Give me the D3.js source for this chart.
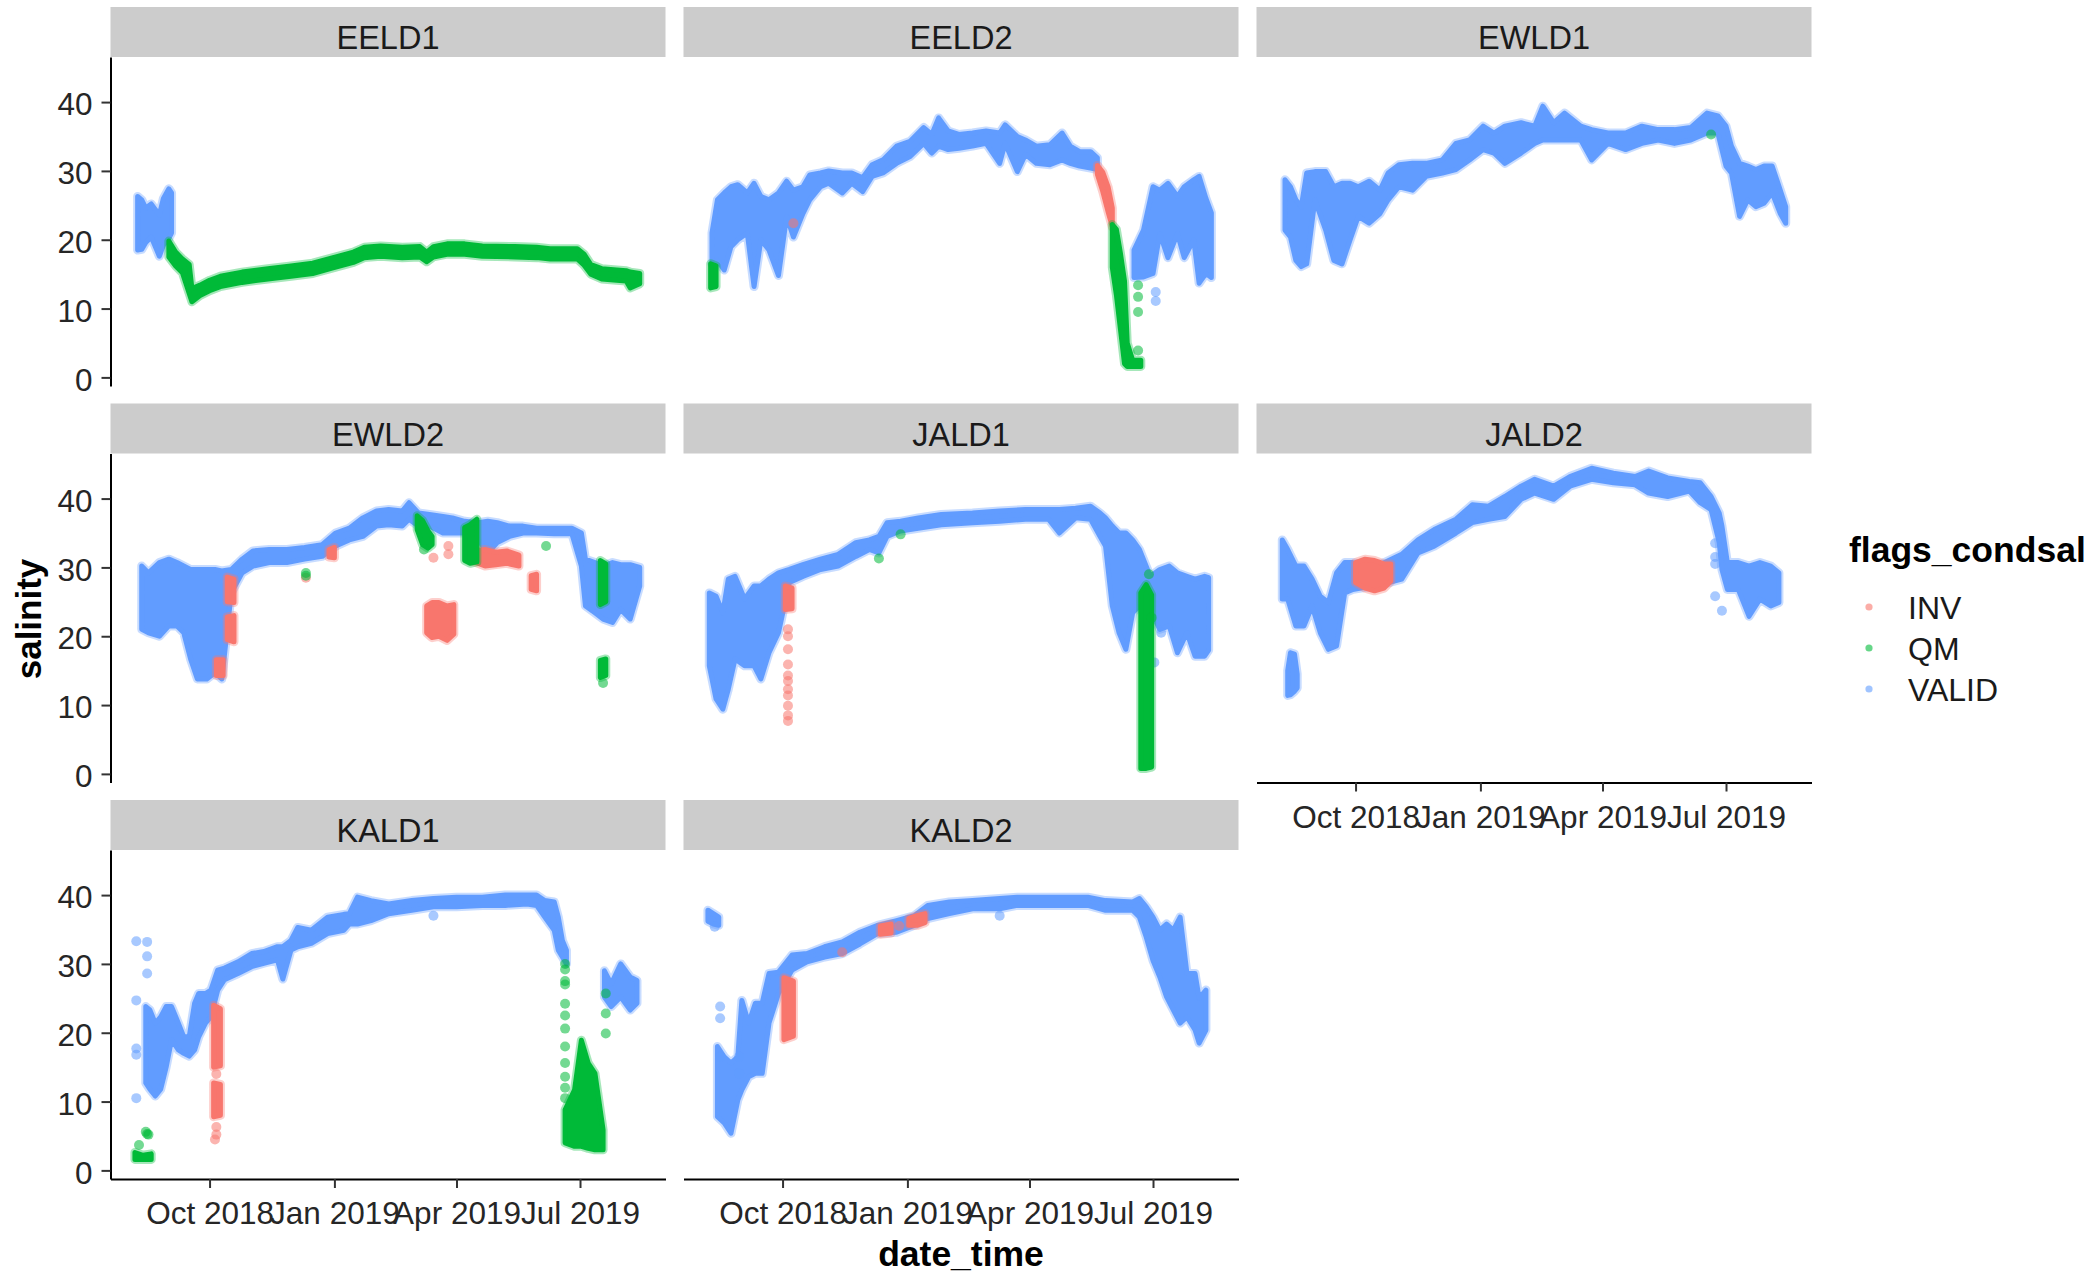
<!DOCTYPE html>
<html>
<head>
<meta charset="utf-8">
<script src="https://cdn.jsdelivr.net/npm/d3@7"></script>
<style>
  body { margin: 0; background: #fff; }
  text { font-family: "Liberation Sans", Arial, sans-serif; }
</style>
</head>
<body>
<svg id="chart" width="2093" height="1277"></svg>
<script>
// ---- categories, ticks, colours ----
const stations = ["EELD1", "EELD2", "EWLD1", "EWLD2", "JALD1", "JALD2", "KALD1", "KALD2"];
const flags = ["INV", "QM", "VALID"];
const flagColors = ["#F8766D", "#00BA38", "#619CFF"];
const yTicks = [0, 10, 20, 30, 40];
const xTickDates = ["2018-10-01", "2019-01-01", "2019-04-01", "2019-07-01"];
const xTickLabels = ["Oct 2018", "Jan 2019", "Apr 2019", "Jul 2019"];

// ---- salinity readings: dense runs as [date, low, high] per period (null = break) ----
// ---- sparse readings as [date, salinity] ----

const eeld1Valid = [
  ["2018-08-09",18.5,26.3],["2018-08-12",18.6,25.8],["2018-08-15",19.6,24.6],["2018-08-19",20.4,25.2],
  ["2018-08-22",19.0,24.4],["2018-08-25",17.6,23.6],["2018-08-28",19.2,26.0],["2018-09-01",20.2,27.4],
  ["2018-09-03",21.0,26.8]
];
const eeld1Qm = [
  ["2018-09-01",17.5,19.8],["2018-09-06",16.2,18.2],["2018-09-11",15.2,17.2],["2018-09-16",12.2,16.4],
  ["2018-09-18",11.0,12.9],["2018-09-24",11.9,13.4],["2018-10-01",12.6,14.1],["2018-10-09",13.2,14.7],
  ["2018-10-25",13.8,15.3],["2018-11-13",14.3,15.8],["2018-11-30",14.7,16.2],["2018-12-16",15.1,16.6],
  ["2018-12-29",15.8,17.3],["2019-01-15",16.7,18.2],["2019-01-23",17.4,18.9],["2019-02-04",17.6,19.1],
  ["2019-02-20",17.4,18.9],["2019-03-05",17.5,19.0],["2019-03-10",16.8,18.2],["2019-03-15",17.5,19.0],
  ["2019-03-25",17.9,19.4],["2019-04-07",17.9,19.4],["2019-04-20",17.6,19.1],["2019-05-14",17.5,19.0],
  ["2019-05-30",17.4,18.9],["2019-06-09",17.2,18.7],["2019-06-29",17.2,18.7],["2019-07-04",16.3,17.9],
  ["2019-07-09",15.0,16.4],["2019-07-17",14.3,15.8],["2019-07-28",14.1,15.6],["2019-08-04",14.0,15.5],
  ["2019-08-07",13.0,15.3],["2019-08-14",13.6,15.1]
];

const eeld2Valid = [
  ["2018-08-10",16.5,21.0],["2018-08-14",17.0,25.8],["2018-08-19",15.6,26.8],["2018-08-24",19.0,27.7],
  ["2018-08-29",20.0,28.0],["2018-09-05",21.0,26.8],["2018-09-10",13.2,28.2],["2018-09-15",20.0,26.3],
  ["2018-09-21",18.5,25.8],["2018-09-28",14.8,26.8],["2018-10-04",23.4,28.5],["2018-10-09",20.4,27.2],
  ["2018-10-16",23.8,27.7],["2018-10-21",25.8,29.4],["2018-10-29",27.7,29.7],["2018-11-04",28.2,30.0],
  ["2018-11-14",26.8,29.7],["2018-11-21",28.2,29.7],["2018-11-29",27.0,29.0],["2018-12-06",29.2,30.9],
  ["2018-12-14",29.7,31.6],["2018-12-24",31.1,33.6],["2019-01-03",32.1,34.3],["2019-01-13",34.0,36.3],
  ["2019-01-19",32.6,35.3],["2019-01-24",33.6,37.7],["2019-01-31",33.1,35.8],["2019-02-08",33.3,35.3],
  ["2019-02-18",33.6,35.5],["2019-02-28",34.0,35.8],["2019-03-10",31.1,35.5],["2019-03-14",34.0,36.7],
  ["2019-03-23",29.9,35.0],["2019-03-29",32.4,34.5],["2019-04-06",31.1,33.6],["2019-04-16",30.9,33.8],
  ["2019-04-25",31.6,35.5],["2019-05-01",31.1,33.6],["2019-05-08",30.7,32.8],["2019-05-16",30.4,32.8],
  ["2019-05-21",30.2,31.9],
  null,
  ["2019-06-17",14.5,18.5],["2019-06-24",14.6,21.4],["2019-07-01",15.1,27.7],["2019-07-06",20.9,27.2],
  ["2019-07-12",17.4,28.2],["2019-07-19",20.9,26.3],["2019-07-24",17.4,27.7],["2019-07-31",20.0,28.7],
  ["2019-08-04",13.7,29.2],["2019-08-09",15.1,26.0],["2019-08-13",14.5,23.9]
];
const eeld2ValidPts = [["2019-07-03",12.4],["2019-07-03",11.1]];
const eeld2Inv = [
  ["2019-05-21",29.5,30.8],["2019-05-25",27.0,29.8],["2019-05-29",24.0,27.6],["2019-06-01",21.9,24.6]
];
const eeld2InvPts = [["2018-10-09",22.4]];
const eeld2Qm = [
  ["2018-08-09",13.0,16.5],["2018-08-13",13.2,16.2],
  null,
  ["2019-06-01",16.0,22.2],["2019-06-04",12.0,21.5],["2019-06-07",7.0,18.0],["2019-06-10",2.0,14.0],
  ["2019-06-12",1.6,5.0],["2019-06-16",1.6,2.5],["2019-06-22",1.6,2.5]
];
const eeld2QmPts = [["2019-06-20",13.4],["2019-06-20",11.7],["2019-06-20",9.5],["2019-06-20",3.9]];

const ewld1Valid = [
  ["2018-08-10",21.4,28.7],["2018-08-14",20.4,27.7],["2018-08-18",17.0,25.8],["2018-08-22",16.1,24.8],
  ["2018-08-26",16.5,29.7],["2018-09-01",25.8,29.9],["2018-09-09",21.4,29.9],["2018-09-15",17.0,27.7],
  ["2018-09-21",16.5,28.2],["2018-09-27",20.0,28.2],["2018-10-03",23.4,27.7],["2018-10-11",22.4,28.5],
  ["2018-10-19",23.8,27.2],["2018-10-25",25.8,29.7],["2018-11-02",27.7,30.9],["2018-11-12",27.2,31.1],
  ["2018-11-22",29.2,31.1],["2018-12-04",29.7,31.6],["2018-12-14",30.2,34.0],["2018-12-24",31.6,34.5],
  ["2019-01-03",33.1,36.5],["2019-01-11",32.6,35.5],["2019-01-19",31.1,36.5],["2019-01-31",32.6,37.0],
  ["2019-02-10",34.0,36.5],["2019-02-16",34.5,39.4],["2019-02-24",34.5,37.0],["2019-03-04",34.5,38.4],
  ["2019-03-16",34.5,36.5],["2019-03-24",31.6,36.0],["2019-04-05",34.0,35.5],["2019-04-18",33.1,35.5],
  ["2019-04-30",34.0,36.5],["2019-05-12",34.5,36.0],["2019-05-24",34.0,36.0],["2019-06-05",34.5,36.3],
  ["2019-06-17",35.5,38.4],["2019-06-25",35.5,38.0],["2019-07-01",30.7,36.5],["2019-07-05",29.7,33.6],
  ["2019-07-11",23.4,31.1],["2019-07-17",25.8,30.7],["2019-07-23",24.8,30.2],["2019-07-29",25.3,30.7],
  ["2019-08-04",26.8,30.7],["2019-08-10",23.8,27.2],["2019-08-14",22.4,24.8]
];
const ewld1QmPts = [["2019-06-20",35.3]];

const ewld2Valid = [
  ["2018-08-12",21.0,30.2],["2018-08-17",20.5,29.2],["2018-08-25",20.0,30.7],["2018-09-01",21.5,31.2],
  ["2018-09-07",21.5,30.7],["2018-09-12",20.5,30.2],["2018-09-17",16.7,29.7],["2018-09-22",13.8,29.7],
  ["2018-09-29",13.8,29.7],["2018-10-05",14.7,29.7],["2018-10-10",13.8,29.5],["2018-10-17",26.3,29.7],
  ["2018-10-25",29.2,31.2],["2018-11-02",30.2,32.4],["2018-11-14",30.7,32.6],["2018-11-27",30.7,32.6],
  ["2018-12-10",31.2,32.9],["2018-12-23",31.6,33.3],["2019-01-02",33.1,35.0],["2019-01-12",34.0,35.7],
  ["2019-01-22",34.5,37.2],["2019-02-01",36.0,38.2],["2019-02-10",36.2,38.4],["2019-02-20",36.0,38.2],
  ["2019-02-25",37.0,39.4],["2019-03-04",36.0,37.9],["2019-03-12",36.0,37.7],["2019-03-22",35.0,37.4],
  ["2019-03-29",35.0,37.2],["2019-04-07",35.0,36.7],["2019-04-17",34.0,36.5],["2019-04-24",32.1,36.7],
  ["2019-05-01",33.6,36.5],["2019-05-10",34.5,36.0],["2019-05-20",35.0,36.0],["2019-05-30",35.0,35.7],
  ["2019-06-12",34.9,35.7],["2019-06-25",34.9,35.7],["2019-07-02",30.2,35.0],["2019-07-05",24.4,31.2],
  ["2019-07-12",23.4,30.7],["2019-07-18",22.5,30.2],["2019-07-25",22.0,30.7],["2019-07-31",23.9,30.4],
  ["2019-08-07",22.5,30.4],["2019-08-14",27.3,30.0]
];
const ewld2Inv = [
  ["2018-10-06",14.3,16.6],["2018-10-11",14.3,16.6],
  null,
  ["2018-10-14",25.0,28.6],["2018-10-19",24.9,28.3],
  null,
  ["2018-10-14",19.5,22.8],["2018-10-19",19.2,23.0],
  null,
  ["2018-12-28",31.5,32.6],["2019-01-01",31.4,32.9],
  null,
  ["2019-03-10",20.5,24.4],["2019-03-14",19.8,24.9],["2019-03-19",20.0,24.9],["2019-03-25",19.4,24.4],
  ["2019-03-30",20.3,24.6],
  null,
  ["2019-04-14",30.8,32.4],["2019-04-22",30.2,32.6],["2019-04-30",30.4,32.2],["2019-05-08",30.6,32.4],
  ["2019-05-17",30.2,31.8],
  null,
  ["2019-05-26",26.8,28.8],["2019-05-30",26.6,29.0]
];
const ewld2InvPts = [["2019-03-15",31.4],["2019-03-26",33.1],["2019-03-26",31.9],["2018-12-11",28.5]];
const ewld2Qm = [
  ["2019-03-03",35.5,37.5],["2019-03-07",33.3,36.8],["2019-03-11",32.8,35.3],["2019-03-14",33.3,34.5],
  null,
  ["2019-04-07",31.0,35.8],["2019-04-11",30.6,36.2],["2019-04-16",30.8,37.0],
  null,
  ["2019-07-16",24.6,31.0],["2019-07-20",25.0,30.5],
  null,
  ["2019-07-16",14.0,16.5],["2019-07-20",14.3,16.7]
];
const ewld2QmPts = [["2018-12-11",28.8],["2018-12-11",29.2],["2019-06-06",33.1],["2019-07-18",13.2],["2019-03-08",32.6]];

const jald1Valid = [
  ["2018-08-08",15.7,26.3],["2018-08-13",10.9,25.8],["2018-08-18",9.4,23.4],["2018-08-22",12.3,28.3],
  ["2018-08-27",16.7,28.7],["2018-09-03",15.7,25.4],["2018-09-10",15.7,27.3],["2018-09-15",13.8,27.3],
  ["2018-09-21",17.6,28.3],["2018-09-28",20.5,29.2],["2018-10-06",27.8,29.7],["2018-10-16",28.7,30.4],
  ["2018-10-29",29.7,31.2],["2018-11-11",30.2,31.9],["2018-11-24",31.6,33.6],["2018-12-04",32.6,34.0],
  ["2018-12-11",32.1,34.5],["2018-12-17",34.5,36.5],["2018-12-27",35.3,36.7],["2019-01-09",35.7,37.2],
  ["2019-01-26",36.2,37.7],["2019-02-18",36.5,37.9],["2019-03-10",36.7,38.2],["2019-03-29",37.0,38.4],
  ["2019-04-15",37.0,38.4],["2019-04-23",35.0,38.4],["2019-05-05",37.2,38.6],["2019-05-16",37.0,38.9],
  ["2019-05-23",34.5,37.9],["2019-05-27",33.1,37.2],["2019-06-01",24.4,36.0],["2019-06-06",20.5,35.0],
  ["2019-06-11",18.1,35.0],["2019-06-16",23.4,34.0],["2019-06-21",24.4,32.6],["2019-06-29",23.9,28.7],
  ["2019-07-06",21.0,29.7],["2019-07-13",21.5,30.2],["2019-07-19",17.6,29.2],["2019-07-26",20.5,28.7],
  ["2019-08-01",17.1,28.3],["2019-08-08",17.1,28.7],["2019-08-11",18.0,28.5]
];
const jald1ValidPts = [["2019-07-07",20.5],["2019-07-02",16.2]];
const jald1Inv = [["2018-10-03",23.9,27.3],["2018-10-08",24.0,27.0]];
const jald1InvPts = [
  ["2018-10-05",21.0],["2018-10-05",20.0],["2018-10-05",18.1],["2018-10-05",15.9],["2018-10-05",14.3],
  ["2018-10-05",13.5],["2018-10-05",12.3],["2018-10-05",11.4],["2018-10-05",9.9],["2018-10-05",8.5],
  ["2018-10-05",7.7]
];
const jald1Qm = [["2019-06-22",0.8,26.3],["2019-06-26",0.8,27.5],["2019-06-30",1.0,26.0]];
const jald1QmPts = [["2018-12-11",31.3],["2018-12-27",34.8],["2019-06-28",29.0],["2019-06-30",22.7]];

const jald2Valid = [
  ["2018-08-08",25.4,34.0],["2018-08-12",25.4,32.6],["2018-08-18",21.5,30.2],["2018-08-24",21.5,30.2],
  ["2018-08-30",24.4,28.3],["2018-09-05",20.5,25.8],["2018-09-11",18.1,24.9],["2018-09-17",18.6,29.2],
  ["2018-09-23",26.3,30.7],["2018-09-29",26.8,30.7],["2018-10-05",27.0,30.5],["2018-10-20",27.5,30.5],
  ["2018-11-04",28.3,31.9],["2018-11-16",32.1,34.0],["2018-11-28",33.1,35.5],["2018-12-14",35.0,37.0],
  ["2018-12-26",36.5,39.1],["2019-01-07",37.0,38.9],["2019-01-19",37.4,40.3],["2019-01-31",39.9,41.8],
  ["2019-02-10",40.8,42.8],["2019-02-24",39.9,41.8],["2019-03-08",41.8,43.2],["2019-03-24",42.8,44.4],
  ["2019-04-09",42.3,43.7],["2019-04-25",42.0,43.2],["2019-05-05",40.8,44.0],["2019-05-19",40.3,43.0],
  ["2019-06-04",41.1,42.5],["2019-06-12",39.4,42.3],["2019-06-20",38.4,40.3],["2019-06-26",33.6,37.9],
  ["2019-06-28",29.7,36.0],["2019-07-02",26.8,30.7],["2019-07-10",26.8,30.7],["2019-07-18",22.9,30.2],
  ["2019-07-26",25.4,30.7],["2019-08-03",24.4,30.2],["2019-08-09",24.9,29.2],
  null,
  ["2018-08-12",11.4,15.0],["2018-08-14",11.5,17.6],["2018-08-17",12.0,17.4],["2018-08-19",12.5,14.5]
];
const jald2ValidPts = [["2019-06-23",33.5],["2019-06-23",31.5],["2019-06-23",30.5],["2019-06-23",25.8],["2019-06-28",23.7]];
const jald2Inv = [
  ["2018-10-01",27.8,30.7],["2018-10-08",27.0,31.2],["2018-10-15",26.6,31.0],["2018-10-22",27.0,30.5],
  ["2018-10-27",28.0,30.5]
];

const kald1Valid = [
  ["2018-08-15",12.7,23.8],["2018-08-18",11.8,23.3],["2018-08-22",10.8,21.4],["2018-08-26",11.8,22.3],
  ["2018-08-30",15.0,23.8],["2018-09-03",19.0,23.8],["2018-09-08",17.5,21.4],["2018-09-12",17.0,19.4],
  ["2018-09-16",16.6,19.4],["2018-09-20",17.5,24.3],["2018-09-23",19.4,25.7],["2018-09-28",21.4,25.7],
  ["2018-10-02",22.3,26.2],["2018-10-07",26.2,29.1],["2018-10-12",27.7,29.4],["2018-10-22",28.6,30.3],
  ["2018-11-01",29.6,31.5],["2018-11-10",30.1,31.8],["2018-11-20",30.6,32.5],["2018-11-24",27.8,32.5],
  ["2018-11-30",32.0,33.4],["2018-12-05",32.5,35.3],["2018-12-15",33.0,34.9],["2018-12-27",34.4,36.8],
  ["2019-01-08",34.9,37.2],["2019-01-12",35.8,37.3],["2019-01-18",35.8,39.7],["2019-01-28",36.3,39.2],
  ["2019-02-10",37.3,38.7],["2019-02-27",37.8,39.2],["2019-03-15",38.3,39.5],["2019-04-01",38.3,39.7],
  ["2019-04-20",38.5,39.7],["2019-05-07",38.5,40.0],["2019-05-23",38.7,40.0],["2019-05-30",38.5,40.0],
  ["2019-06-05",36.8,39.2],["2019-06-12",34.9,39.0],["2019-06-15",32.0,36.8],["2019-06-18",31.0,33.4],
  ["2019-06-21",30.0,32.0],
  null,
  ["2019-07-19",25.2,29.0],["2019-07-24",23.8,27.1],["2019-07-31",25.2,30.0],["2019-08-07",23.3,28.1],
  ["2019-08-12",24.3,27.6]
];
const kald1ValidPts = [
  ["2018-08-08",33.3],["2018-08-08",24.7],["2018-08-08",17.7],["2018-08-08",16.8],["2018-08-08",10.5],
  ["2018-08-16",33.2],["2018-08-16",31.1],["2018-08-16",28.6],["2019-03-15",37.0]
];
const kald1Inv = [
  ["2018-10-04",15.0,24.0],["2018-10-09",15.2,23.5],
  null,
  ["2018-10-04",7.8,12.7],["2018-10-09",8.0,12.5]
];
const kald1InvPts = [["2018-10-06",14.0],["2018-10-06",6.3],["2018-10-06",5.2],["2018-10-05",4.5]];
const kald1Qm = [
  ["2018-08-07",1.6,2.6],["2018-08-13",1.6,2.2],["2018-08-19",1.6,2.4],
  null,
  ["2019-06-20",4.0,8.8],["2019-06-27",3.5,11.7],["2019-07-02",3.5,18.9],["2019-07-07",3.2,15.6],
  ["2019-07-12",3.0,14.1],["2019-07-18",3.0,5.9]
];
const kald1QmPts = [
  ["2018-08-10",3.7],["2018-08-15",5.6],["2018-08-16",5.3],["2018-08-17",5.2],
  ["2019-06-20",30.0],["2019-06-20",29.2],["2019-06-20",27.5],["2019-06-20",27.0],["2019-06-20",24.2],
  ["2019-06-20",22.5],["2019-06-20",20.6],["2019-06-20",18.0],["2019-06-20",15.6],["2019-06-20",13.6],
  ["2019-06-20",12.0],["2019-06-20",10.5],
  ["2019-07-20",25.7],["2019-07-20",22.8],["2019-07-20",19.9]
];

const kald2Valid = [
  ["2018-08-07",36.2,37.8],["2018-08-11",35.8,37.3],["2018-08-15",35.6,36.8],
  null,
  ["2018-08-14",7.8,18.0],["2018-08-19",6.9,16.5],["2018-08-24",5.4,15.6],["2018-08-29",10.2,16.5],
  ["2018-09-01",11.7,24.7],["2018-09-06",13.6,21.4],["2018-09-11",14.1,24.3],["2018-09-16",14.1,24.3],
  ["2018-09-21",21.4,28.6],["2018-09-28",25.7,28.8],["2018-10-08",29.1,31.3],["2018-10-19",30.3,31.5],
  ["2018-11-01",31.0,32.5],["2018-11-14",31.5,33.2],["2018-11-27",32.9,34.6],["2018-12-10",34.4,35.6],
  ["2018-12-24",34.6,36.3],["2019-01-06",35.6,37.0],["2019-01-16",36.6,38.5],["2019-02-01",37.3,39.0],
  ["2019-02-18",38.0,39.2],["2019-03-10",38.0,39.5],["2019-03-23",38.5,39.7],["2019-04-18",38.5,39.7],
  ["2019-05-14",38.5,39.7],["2019-05-27",37.8,39.2],["2019-06-16",37.8,39.0],["2019-06-21",36.8,39.5],
  ["2019-06-26",33.9,38.3],["2019-07-01",30.5,36.8],["2019-07-06",28.1,34.9],["2019-07-11",25.2,35.8],
  ["2019-07-16",23.3,34.9],["2019-07-21",21.4,36.8],["2019-07-26",22.3,28.6],["2019-08-01",20.4,28.6],
  ["2019-08-04",18.5,25.0],["2019-08-09",20.4,26.2]
];
const kald2ValidPts = [
  ["2018-08-12",35.4],["2018-08-16",23.8],["2018-08-16",22.1],["2018-08-16",16.5],
  ["2018-08-30",16.5],["2018-08-30",14.1],["2019-03-10",37.0]
];
const kald2Inv = [
  ["2018-10-02",19.0,28.0],["2018-10-09",19.5,27.5],
  null,
  ["2018-12-12",34.3,35.5],["2018-12-20",34.5,35.8],
  null,
  ["2019-01-02",35.6,36.6],["2019-01-08",35.6,37.0],["2019-01-14",36.0,37.3]
];
const kald2InvPts = [["2018-11-14",31.7],["2018-12-26",35.5]];

// ---- per-panel lookup built from the arrays above ----
const panelData = {
  EELD1: { bands: { VALID: eeld1Valid, INV: [], QM: eeld1Qm }, pts: { VALID: [], INV: [], QM: [] } },
  EELD2: { bands: { VALID: eeld2Valid, INV: eeld2Inv, QM: eeld2Qm }, pts: { VALID: eeld2ValidPts, INV: eeld2InvPts, QM: eeld2QmPts } },
  EWLD1: { bands: { VALID: ewld1Valid, INV: [], QM: [] }, pts: { VALID: [], INV: [], QM: ewld1QmPts } },
  EWLD2: { bands: { VALID: ewld2Valid, INV: ewld2Inv, QM: ewld2Qm }, pts: { VALID: [], INV: ewld2InvPts, QM: ewld2QmPts } },
  JALD1: { bands: { VALID: jald1Valid, INV: jald1Inv, QM: jald1Qm }, pts: { VALID: jald1ValidPts, INV: jald1InvPts, QM: jald1QmPts } },
  JALD2: { bands: { VALID: jald2Valid, INV: jald2Inv, QM: [] }, pts: { VALID: jald2ValidPts, INV: [], QM: [] } },
  KALD1: { bands: { VALID: kald1Valid, INV: kald1Inv, QM: kald1Qm }, pts: { VALID: kald1ValidPts, INV: kald1InvPts, QM: kald1QmPts } },
  KALD2: { bands: { VALID: kald2Valid, INV: kald2Inv, QM: [] }, pts: { VALID: kald2ValidPts, INV: kald2InvPts, QM: [] } }
};

// ---- layout ----
const colX = [110.5, 683.5, 1256.5];
const rowTop = [7, 403.5, 800];
const panelW = 555, stripH = 50, panelH = 329;
const nCols = 3;
const FONT = '"Liberation Sans", Arial, sans-serif';

const parse = d3.utcParse("%Y-%m-%d");
const color = d3.scaleOrdinal().domain(flags).range(flagColors);

const x = d3.scaleUtc()
  .domain([parse("2018-07-20"), parse("2019-09-02")])
  .range([0, panelW]);
const y = d3.scaleLinear()
  .domain([-1.25, 46.55])
  .range([panelH, 0]);

const band = d3.area()
  .defined(d => d !== null)
  .x(d => x(parse(d[0])))
  .y0(d => y(d[1]))
  .y1(d => y(d[2]));

const svg = d3.select("#chart");
svg.append("rect").attr("width", 2093).attr("height", 1277).attr("fill", "#fff");

const drawOrder = ["VALID", "INV", "QM"];

stations.forEach((name, i) => {
  const row = Math.floor(i / nCols), col = i % nCols;
  const g = svg.append("g").attr("transform", `translate(${colX[col]},${rowTop[row]})`);

  // strip
  g.append("rect")
    .attr("width", panelW).attr("height", stripH)
    .attr("fill", "#CCCCCC");
  g.append("text")
    .attr("x", panelW / 2).attr("y", 42)
    .attr("text-anchor", "middle")
    .attr("font-size", 32.5)
    .attr("fill", "#1A1A1A")
    .text(name);

  const p = g.append("g").attr("transform", `translate(0,${stripH})`);
  const d = panelData[name];

  drawOrder.forEach(f => {
    const c = color(f);
    if (d.bands[f].length) {
      const path = band(d.bands[f]);
      // soft rim of semi-transparent points around each dense run
      p.append("path")
        .attr("d", path)
        .attr("fill", "none")
        .attr("stroke", c)
        .attr("stroke-opacity", 0.35)
        .attr("stroke-width", 9)
        .attr("stroke-linejoin", "round");
      p.append("path")
        .attr("d", path)
        .attr("fill", c)
        .attr("stroke", c)
        .attr("stroke-width", 5)
        .attr("stroke-linejoin", "round");
    }
    p.append("g").selectAll("circle")
      .data(d.pts[f])
      .join("circle")
      .attr("cx", v => x(parse(v[0])))
      .attr("cy", v => y(v[1]))
      .attr("r", 5)
      .attr("fill", c)
      .attr("fill-opacity", 0.55);
  });

  // y axis on the first column
  if (col === 0) {
    const ya = p.append("g")
      .call(d3.axisLeft(y).tickValues(yTicks).tickSize(9).tickSizeOuter(0).tickPadding(9));
    styleAxis(ya);
    ya.selectAll("text").attr("dy", "0.4em");
  }
  // x axis where no panel sits below
  if (i + nCols >= stations.length) {
    const xa = p.append("g")
      .attr("transform", `translate(0,${panelH})`)
      .call(d3.axisBottom(x)
        .tickValues(xTickDates.map(parse))
        .tickFormat((t, k) => xTickLabels[k])
        .tickSize(9).tickSizeOuter(0).tickPadding(14));
    styleAxis(xa);
  }
});

function styleAxis(a) {
  a.attr("font-size", 31.5).attr("font-family", FONT);
  a.select(".domain").attr("stroke", "#000").attr("stroke-width", 2);
  a.selectAll(".tick line").attr("stroke", "#333").attr("stroke-width", 2);
  a.selectAll(".tick text").attr("fill", "#262626");
}

// axis titles
svg.append("text")
  .attr("x", 961).attr("y", 1266)
  .attr("text-anchor", "middle")
  .attr("font-size", 35.5).attr("font-weight", "bold")
  .attr("fill", "#000")
  .text("date_time");
svg.append("text")
  .attr("transform", "translate(41,619) rotate(-90)")
  .attr("text-anchor", "middle")
  .attr("font-size", 35).attr("font-weight", "bold")
  .attr("fill", "#000")
  .text("salinity");

// legend
const lg = svg.append("g").attr("transform", "translate(1849,0)");
lg.append("text")
  .attr("x", 0).attr("y", 562)
  .attr("font-size", 35.5).attr("font-weight", "bold")
  .attr("fill", "#000")
  .text("flags_condsal");
flags.forEach((f, k) => {
  const cy = 607 + k * 41;
  lg.append("circle")
    .attr("cx", 20).attr("cy", cy).attr("r", 3.6)
    .attr("fill", color(f)).attr("fill-opacity", 0.6);
  lg.append("text")
    .attr("x", 59).attr("y", cy).attr("dy", "0.36em")
    .attr("font-size", 32).attr("fill", "#1A1A1A")
    .text(f);
});
</script>
</body>
</html>
